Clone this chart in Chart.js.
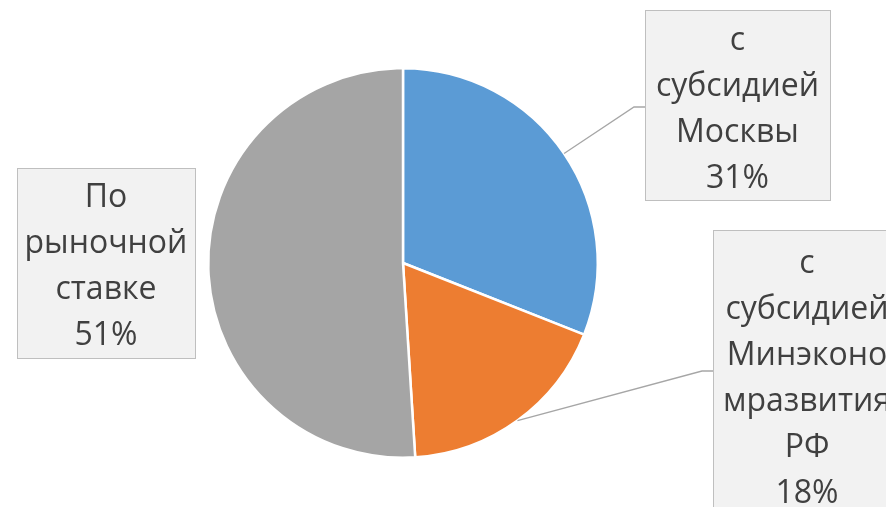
<!DOCTYPE html>
<html>
<head>
<meta charset="utf-8">
<script src="https://cdn.jsdelivr.net/npm/chart.js@4"></script>
<style>
  html, body { margin: 0; padding: 0; background: #fff; }
  #wrap { width: 886px; height: 507px; position: relative; }
</style>
</head>
<body>
<div id="wrap"><canvas id="pieChart"></canvas></div>
<script>
const categories = ['с субсидией Москвы', 'с субсидией Минэкономразвития РФ', 'По рыночной ставке'];
const shares = [31, 18, 51];
const sliceColors = ['#5b9bd5', '#ed7d31', '#a5a5a5'];

// label text lines (as wrapped in the original) and where each box sits
const labelLines = [
    ['с', 'субсидией', 'Москвы', '31%'],
    ['с', 'субсидией', 'Минэконо', 'мразвития', 'РФ', '18%'],
    ['По', 'рыночной', 'ставке', '51%']
];
const labelBoxes = [
    { x: 645, y: 10, w: 185, h: 190, attachY: 107, textTop: 41 },
    { x: 713, y: 230, w: 188, h: 290, attachY: 371, textTop: 264 },
    { x: 17, y: 168, w: 178, h: 190, attachY: null, textTop: 198 }
];

const textColor = '#404040';
const fontFamily = "'Open Sans', 'Noto Sans', sans-serif";

const boxLabels = {
    id: 'boxLabels',
    afterDatasetsDraw(chart) {
        const ctx = chart.ctx;
        const arcs = chart.getDatasetMeta(0).data;
        ctx.save();
        arcs.forEach((arc, i) => {
            const b = labelBoxes[i];
            const mid = (arc.startAngle + arc.endAngle) / 2;
            const px = arc.x + Math.cos(mid) * arc.outerRadius;
            const py = arc.y + Math.sin(mid) * arc.outerRadius;

            if (b.attachY !== null) {
                ctx.strokeStyle = '#a6a6a6';
                ctx.lineWidth = 1.3;
                ctx.beginPath();
                ctx.moveTo(px, py);
                ctx.lineTo(b.x - 11, b.attachY);
                ctx.lineTo(b.x, b.attachY);
                ctx.stroke();
            }

            ctx.fillStyle = '#f2f2f2';
            ctx.fillRect(b.x, b.y, b.w, b.h);
            ctx.strokeStyle = '#bfbfbf';
            ctx.lineWidth = 1;
            ctx.strokeRect(b.x + 0.5, b.y + 0.5, b.w, b.h);

            ctx.fillStyle = textColor;
            ctx.font = '32px ' + fontFamily;
            ctx.textAlign = 'center';
            ctx.textBaseline = 'middle';
            labelLines[i].forEach((t, k) => {
                ctx.fillText(t, b.x + b.w / 2, b.textTop + k * 46);
            });
        });
        ctx.restore();
    }
};

new Chart(document.getElementById('pieChart'), {
    type: 'pie',
    data: {
        labels: categories,
        datasets: [{
            data: shares,
            backgroundColor: sliceColors,
            borderColor: '#ffffff',
            borderWidth: 2.5
        }]
    },
    options: {
        responsive: true,
        maintainAspectRatio: false,
        animation: false,
        layout: { padding: { left: 207, right: 287, top: 67, bottom: 48 } },
        plugins: {
            legend: { display: false },
            tooltip: { enabled: false }
        }
    },
    plugins: [boxLabels]
});
</script>
</body>
</html>
